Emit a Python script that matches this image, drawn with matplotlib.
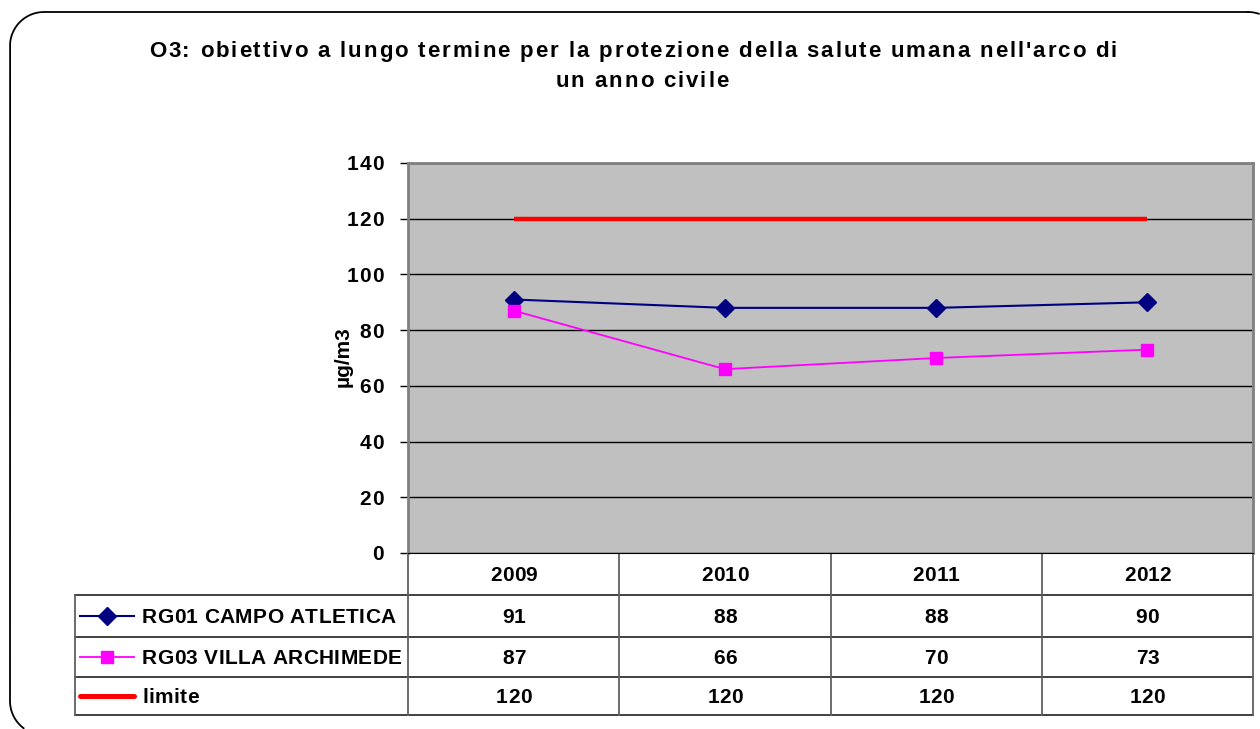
import numpy as np
import matplotlib
matplotlib.use("Agg")
import matplotlib.pyplot as plt
from matplotlib.font_manager import FontProperties, findfont, get_font

plt.rcParams["savefig.bbox"] = "standard"

# dati O3 - media annua (µg/m3)
anni = ["2009", "2010", "2011", "2012"]
rg01 = [91, 88, 88, 90]
rg03 = [87, 66, 70, 73]
limite = [120, 120, 120, 120]
serie_nomi = ["RG01 CAMPO ATLETICA", "RG03 VILLA ARCHIMEDE", "limite"]
yticks = [0, 20, 40, 60, 80, 100, 120, 140]
titolo = ["O3: obiettivo a lungo termine per la protezione della salute umana nell'arco di",
          "un anno civile"]

NAVY = "#000080"
MAGENTA = "#FF00FF"
ROSSO = "#FF0000"
FONT = "Liberation Sans"

W, H = 1260, 729
fig = plt.figure(figsize=(W / 100, H / 100), dpi=100)

# livello di sfondo in pixel (y verso il basso) per cornice, titolo e tabella
bg = fig.add_axes([0, 0, 1, 1])
bg.set_xlim(0, W)
bg.set_ylim(H, 0)
bg.axis("off")

fp = FontProperties(family=FONT, weight="bold")
ft = get_font(findfont(fp))


def testo_spaziato(x, y, s, size, track, ha="center", color="black"):
    """scrive s carattere per carattere con spaziatura extra (stile Excel);
    y e' la linea centrale delle maiuscole"""
    ft.set_size(size, 100)
    adv = [ft.load_char(ord(c)).linearHoriAdvance / 65536 for c in s]
    tot = sum(adv) + track * (len(s) - 1)
    if ha == "center":
        x0 = x - tot / 2
    elif ha == "right":
        x0 = x - tot
    else:
        x0 = x
    base = y + 0.716 * size * 100 / 72 / 2
    for c, a in zip(s, adv):
        if c != " ":
            bg.text(x0, base, c, ha="left", va="baseline", fontsize=size,
                    family=FONT, weight="bold", color=color)
        x0 += a + track


def cornice(x0, y0, x1, y1, r):
    """rettangolo con angoli arrotondati, in pixel con y verso il basso;
    si tiene solo la parte dentro la figura"""
    t = np.linspace(0, np.pi / 2, 40)
    xs, ys = [], []
    for cx, cy, a0 in [(x1 - r, y0 + r, -np.pi / 2), (x1 - r, y1 - r, 0),
                       (x0 + r, y1 - r, np.pi / 2), (x0 + r, y0 + r, np.pi)]:
        xs += list(cx + r * np.cos(a0 + t))
        ys += list(cy + r * np.sin(a0 + t))
    xs.append(xs[0])
    ys.append(ys[0])
    xs, ys = np.array(xs), np.array(ys)
    fuori = (xs > W - 0.5) | (ys > H - 0.5)
    xs[fuori] = np.nan
    ys[fuori] = np.nan
    bg.plot(xs, ys, color="black", lw=1.3)


cornice(10, 12, 1282, 735, 34)

# titolo
testo_spaziato(633, 49, titolo[0], 16, 1.9)
testo_spaziato(642, 79, titolo[1], 16, 1.9)

# area del grafico
x_left, x_right, y_top, y_bot = 408, 1253, 163, 553
ax = fig.add_axes([x_left / W, 1 - y_bot / H, (x_right - x_left) / W, (y_bot - y_top) / H])
ax.set_facecolor("#C0C0C0")
ax.set_xlim(-0.5, len(anni) - 0.5)
ax.set_ylim(0, 140)
ax.set_yticks(yticks)
ax.set_yticklabels([])
ax.set_xticks([])
ax.tick_params(axis="y", direction="out", length=6, width=1, color="black")
ax.grid(axis="y", color="black", lw=1)
ax.set_axisbelow(True)
for lato in ["left", "top", "right"]:
    ax.spines[lato].set_color("#808080")
    ax.spines[lato].set_linewidth(2)
ax.spines["bottom"].set_color("black")

x = list(range(len(anni)))
ax.plot(x, limite, color=ROSSO, lw=3.2, solid_capstyle="butt")
ax.plot(x, rg01, color=NAVY, lw=1.5, marker="D", ms=9, mfc=NAVY, mec=NAVY)
ax.plot(x, rg03, color=MAGENTA, lw=1.3, marker="s", ms=9, mfc=MAGENTA, mec=MAGENTA)

# etichette asse y
fig.canvas.draw()
to_px = ax.transData.transform
for v in yticks:
    yp = H - to_px((0, v))[1]
    testo_spaziato(384, yp, str(v), 15, 1.5, ha="right")
bg.text(343, 357, "µg/m3", rotation=90, ha="center", va="center",
        fontsize=15, family=FONT, weight="bold")

# tabella dati sotto il grafico
col_x = [to_px((i - 0.5, 0))[0] for i in range(len(anni) + 1)]
righe = [553, 595, 637, 677, 715]
tab_left = 75
for i, yr in enumerate(righe):
    x0 = x_left if i == 0 else tab_left
    bg.plot([x0, x_right], [yr, yr], color="#202020", lw=1.2)
for i, xc in enumerate(col_x):
    bg.plot([xc, xc], [righe[0], righe[-1]], color="#606060", lw=1.3)
bg.plot([tab_left, tab_left], [righe[1], righe[-1]], color="#606060", lw=1.3)

centri_x = [to_px((i, 0))[0] for i in range(len(anni))]
for xc, a in zip(centri_x, anni):
    testo_spaziato(xc, (righe[0] + righe[1]) / 2, a, 15, 0.2)

# legenda nella prima colonna della tabella
valori = [rg01, rg03, limite]
linee = [dict(color=NAVY, lw=1.5), dict(color=MAGENTA, lw=1.3),
         dict(color=ROSSO, lw=3.6, solid_capstyle="round")]
marcatori = [dict(marker="D", ms=9, color=NAVY), dict(marker="s", ms=9, color=MAGENTA), None]
for r, (nome, vals) in enumerate(zip(serie_nomi, valori)):
    yc = (righe[r + 1] + righe[r + 2]) / 2
    bg.plot([80, 134], [yc, yc], **linee[r])
    if marcatori[r]:
        bg.plot([107], [yc], ls="none", **marcatori[r])
    testo_spaziato(142, yc, nome, 15, 0.35, ha="left")
    for xc, v in zip(centri_x, vals):
        testo_spaziato(xc, yc, str(v), 15, 0.2)

fig.savefig("out.png", dpi=100)
